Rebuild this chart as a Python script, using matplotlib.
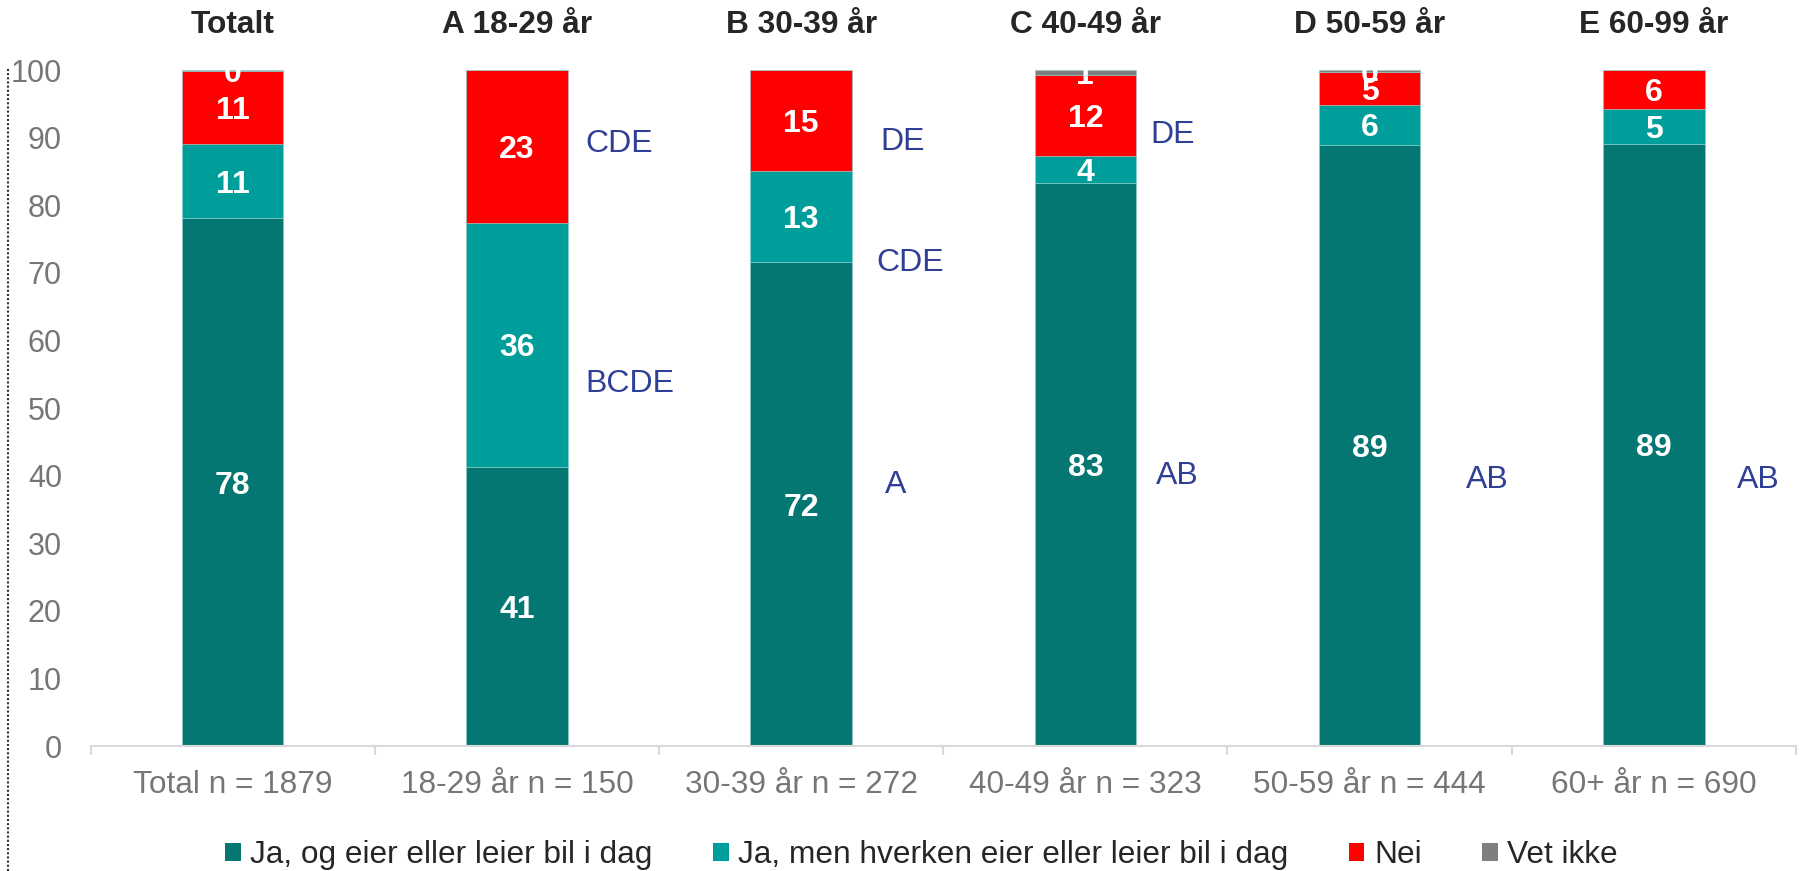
import matplotlib
matplotlib.use("Agg")
import matplotlib.pyplot as plt
from matplotlib.lines import Line2D
from matplotlib.patches import Patch

plt.rcParams['font.family'] = ['Liberation Sans', 'DejaVu Sans']

# data
grupper = ["Total n = 1879", "18-29 år n = 150", "30-39 år n = 272",
           "40-49 år n = 323", "50-59 år n = 444", "60+ år n = 690"]
titler = ["Totalt", "A 18-29 år", "B 30-39 år", "C 40-49 år", "D 50-59 år", "E 60-99 år"]
eier = [78.1, 41.3, 71.6, 83.3, 88.9, 89.1]
ikke_eier = [10.9, 36.1, 13.4, 4.0, 6.0, 5.1]
nei = [10.8, 22.6, 15.0, 12.0, 4.75, 5.8]
vet_ikke = [0.2, 0.0, 0.0, 0.7, 0.35, 0.0]
serier = ["Ja, og eier eller leier bil i dag", "Ja, men hverken eier eller leier bil i dag",
          "Nei", "Vet ikke"]
# signifikante forskjeller per gruppe
sig = [[], ["CDE", "BCDE"], ["DE", "CDE", "A"], ["DE", "AB"], ["AB"], ["AB"]]

# plassering av bokstavene (x-forskyvning fra stolpe, y i prosent)
sig_pos = [[], [(0.242, 89.6), (0.242, 54.0)],
           [(0.277, 89.8), (0.263, 72.0), (0.295, 39.2)],
           [(0.229, 90.9), (0.248, 40.4)], [(0.339, 39.9)], [(0.294, 39.9)]]

farger = ["#047772", "#009E9A", "#FF0000", "#7F7F7F"]
blaa = "#2F3F96"
graa_tekst = "#767676"

fig = plt.figure(figsize=(18.02, 8.71), dpi=100)
ax = fig.add_axes([0.0503, 0.1435, 0.9463, 0.7761])

x = list(range(len(grupper)))
bredde = 0.357
bunn = [0.0] * len(x)
for verdier, farge in zip([eier, ikke_eier, nei, vet_ikke], farger):
    ax.bar(x, verdier, bredde, bottom=bunn, color=farge, edgecolor='#8FCFCB', linewidth=0.4)
    for i, v in enumerate(verdier):
        if v > 0:
            ax.text(x[i], bunn[i] + v / 2, f"{v:.0f}", ha='center', va='center_baseline',
                    color='white', fontsize=23, fontweight='bold', clip_on=True)
    bunn = [b + v for b, v in zip(bunn, verdier)]

# titler over stolpene
for i, t in enumerate(titler):
    ax.text(x[i], 105.5, t, ha='center', va='baseline', fontsize=22.8,
            fontweight='bold', color='#262626', clip_on=False)

# signifikansbokstaver
for i, bokstaver in enumerate(sig):
    for b, (dx, y) in zip(bokstaver, sig_pos[i]):
        ax.text(x[i] + dx, y, b, ha='left', va='center_baseline', fontsize=23, color=blaa)

ax.set_xlim(-0.5, len(x) - 0.5)
ax.set_ylim(0, 100)
ax.set_yticks(range(0, 101, 10))
ax.set_xticks(x)
ax.set_xticklabels(grupper)
ax.set_xticks([i - 0.5 for i in range(len(x) + 1)], minor=True)
ax.tick_params(axis='y', length=0, labelsize=22, labelcolor=graa_tekst, pad=20.7)
ax.tick_params(axis='x', which='major', length=0, labelsize=22.8, labelcolor=graa_tekst, pad=17)
ax.tick_params(axis='x', which='minor', length=6.7, width=1.5, color='#D9D9D9')
for s in ['top', 'right', 'left']:
    ax.spines[s].set_visible(False)
ax.spines['bottom'].set_color('#D9D9D9')
ax.spines['bottom'].set_linewidth(1.5)

# prikket kantlinje til venstre
fig.add_artist(Line2D([8.4 / 1802, 8.4 / 1802], [0, 1 - 67 / 871], transform=fig.transFigure,
                      color='#303030', linewidth=1.5, linestyle=(0, (1, 1))))

handles = [Patch(facecolor=f, edgecolor='none') for f in farger]
fig.legend(handles, serier, loc='center', bbox_to_anchor=(0.5113, 0.0184), ncol=4,
           frameon=False, fontsize=22.8, handlelength=0.5, handleheight=0.5,
           handletextpad=0.3, columnspacing=1.9, borderpad=0, borderaxespad=0,
           labelcolor='#262626')

fig.savefig("out.png", dpi=100)
